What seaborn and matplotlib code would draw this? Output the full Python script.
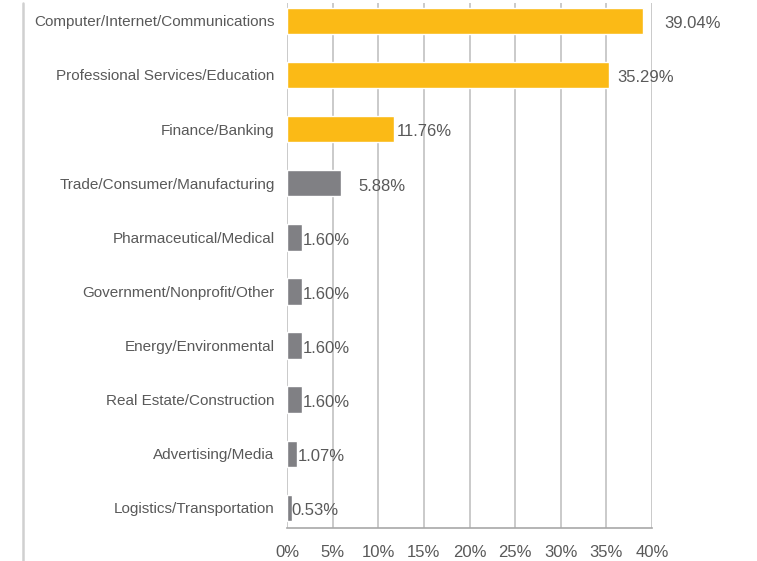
import matplotlib
matplotlib.use("Agg")
import matplotlib.pyplot as plt
import seaborn as sns
import pandas as pd
from matplotlib.lines import Line2D

categories = [
    "Computer/Internet/Communications",
    "Professional Services/Education",
    "Finance/Banking",
    "Trade/Consumer/Manufacturing",
    "Pharmaceutical/Medical",
    "Government/Nonprofit/Other",
    "Energy/Environmental",
    "Real Estate/Construction",
    "Advertising/Media",
    "Logistics/Transportation",
]
values = [39.04, 35.29, 11.76, 5.88, 1.60, 1.60, 1.60, 1.60, 1.07, 0.53]
highlight = [True, True, True, False, False, False, False, False, False, False]
x_ticks = [0, 5, 10, 15, 20, 25, 30, 35, 40]

ORANGE = "#FBBA16"
GRAY = "#808084"
TEXT = "#595959"
# label offsets in points (style only)
label_pad = [15, 6, 2, 13, 1, 1, 1, 1, 1, 0]

df = pd.DataFrame({"category": categories, "value": values,
                   "group": ["hi" if h else "lo" for h in highlight]})

sns.set_theme(style="white")
plt.rcParams["font.family"] = ["Liberation Sans", "DejaVu Sans"]

fig = plt.figure(figsize=(7.57, 5.61), dpi=100)
ax = fig.add_axes([287 / 757, 1 - 528 / 561, (652 - 287) / 757, (528 - 3) / 561])

sns.barplot(data=df, y="category", x="value", hue="group",
            palette={"hi": ORANGE, "lo": GRAY}, dodge=False, legend=False,
            width=0.49, ax=ax, orient="h", saturation=1)

ax.set_xlim(0, 40)
ax.set_ylim(9.37, -0.33)
ax.set_xticks(x_ticks)
ax.set_xticklabels([f"{t}%" for t in x_ticks], fontsize=12, color=TEXT)
ax.tick_params(axis="y", labelsize=11, labelcolor=TEXT, length=0, pad=9)
ax.tick_params(axis="x", length=0, pad=12)
ax.set_xlabel("")
ax.set_ylabel("")

ax.grid(axis="x", color="#c6c6c6", linewidth=1.3)
ax.set_axisbelow(True)
for s in ["top", "right", "left"]:
    ax.spines[s].set_visible(False)
ax.spines["bottom"].set_color("#a8a8a8")
ax.spines["bottom"].set_linewidth(1.2)

for i, (v, p) in enumerate(zip(values, label_pad)):
    ax.annotate(f"{v:.2f}%", xy=(v, i), xytext=(p, -2), textcoords="offset points",
                va="center", ha="left", fontsize=12, color=TEXT)

fig.add_artist(Line2D([23 / 757, 23 / 757], [0, 1 - 3 / 561], transform=fig.transFigure,
                      color="#d0d0d0", linewidth=1.8))

fig.savefig("out.png", dpi=100)
